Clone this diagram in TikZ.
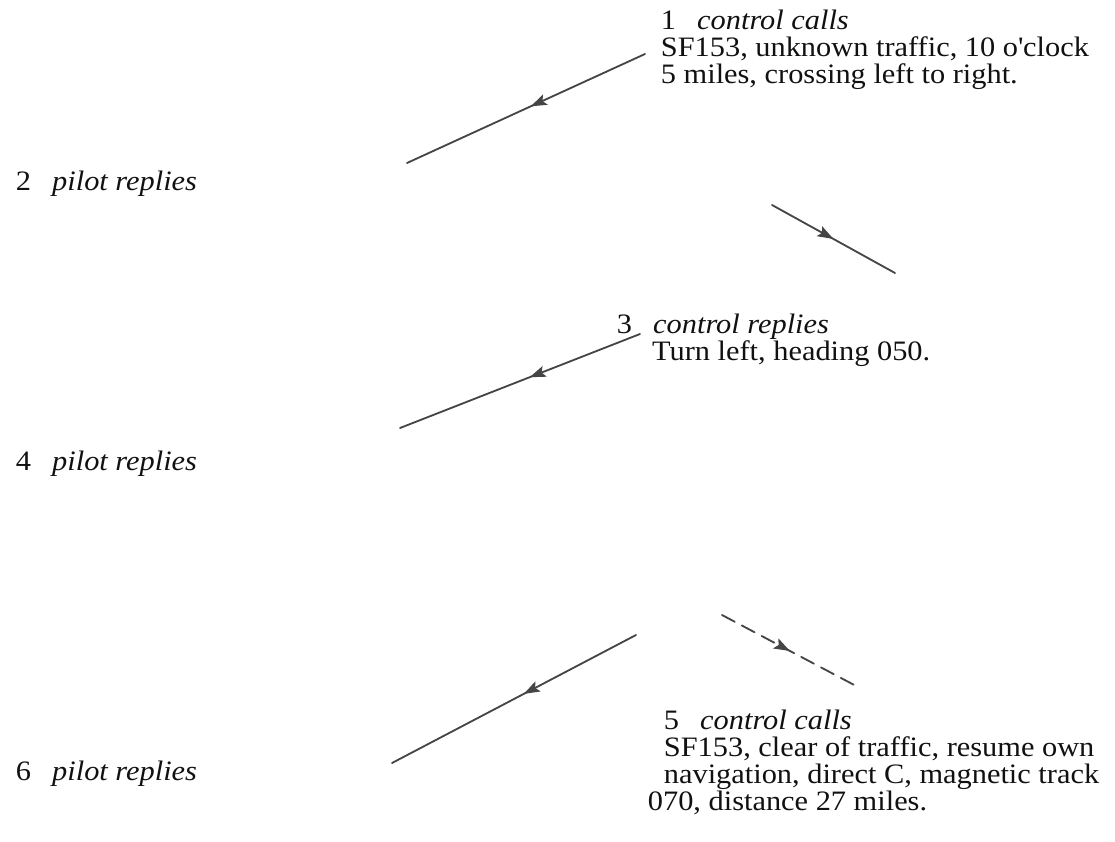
\documentclass[tikz,border=0pt]{standalone}
\usepackage{fontspec}
\setmainfont{Liberation Serif}[FakeStretch=1.08]
\usetikzlibrary{arrows.meta, positioning, decorations.markings}
\definecolor{ctrack}{HTML}{454545}
\definecolor{ctext}{HTML}{111111}
\newcommand{\msgno}[2]{#1\hspace{15pt}\textit{#2}}
\tikzset{
  every picture/.style={line width=1.3pt},
  msg/.style={anchor=north west, inner sep=0pt, align=left, text=ctext, font=\fontsize{20}{19.2}\selectfont},
  reply/.style={anchor=base west, inner sep=0pt, text=ctext, font=\fontsize{20}{19.2}\selectfont},
  track/.style={draw=ctrack, line cap=round, postaction=decorate,
    decoration={markings, mark=at position #1 with {\arrow{Stealth[length=4mm, width=2.8mm, inset=0.8mm]}}}},
  track/.default=0.5,
}

\begin{document}
\begin{tikzpicture}[x=0.025cm, y=-0.025cm]
  \useasboundingbox (0,0) rectangle (1115,841);
  % messages from control
  \node[msg] (call1) at (660,9) {\msgno{1}{control calls}\\SF153, unknown traffic, 10 o\textquotesingle clock\\5 miles, crossing left to right.};
  \node[msg] (call3) at (616,313) {\msgno{3}{control replies}\\\hspace*{0.88cm}Turn left, heading 050.};
  \node[msg] (call5) at (647,709) {\hspace*{0.4cm}\msgno{5}{control calls}\\\hspace*{0.4cm}SF153, clear of traffic, resume own\\\hspace*{0.4cm}navigation, direct C, magnetic track\\070, distance 27 miles.};
  % pilot replies
  \node[reply] (reply2) at (15,190) {\msgno{2}{pilot replies}};
  \node[reply] (reply4) at (15,470) {\msgno{4}{pilot replies}};
  \node[reply] (reply6) at (15,780) {\msgno{6}{pilot replies}};
  % tracks
  \coordinate (t1a) at (645,54);  \coordinate (t1b) at (407,163);
  \coordinate (t2a) at (772,205); \coordinate (t2b) at (895,273);
  \coordinate (t3a) at (640,334); \coordinate (t3b) at (400,428);
  \coordinate (t5a) at (636,635); \coordinate (t5b) at (392,763);
  \coordinate (t6a) at (722,615); \coordinate (t6b) at (858,687);
  \draw[track=0.48] (t1a) -- (t1b);
  \draw[track] (t2a) -- (t2b);
  \draw[track=0.46] (t3a) -- (t3b);
  \draw[track=0.46] (t5a) -- (t5b);
  \draw[track, dash pattern=on 0.36cm off 0.2cm] (t6a) -- (t6b);
\end{tikzpicture}
\end{document}
